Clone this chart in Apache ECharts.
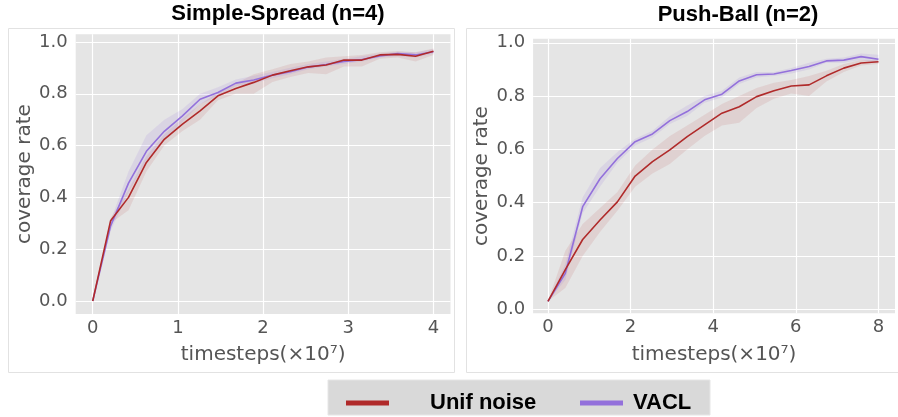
<!DOCTYPE html>
<html>
<head>
<meta charset="utf-8">
<script src="https://cdn.jsdelivr.net/npm/echarts@6/dist/echarts.min.js"></script>
<style>html,body{margin:0;padding:0;background:#fff;}#c{width:898px;height:417px;}</style>
</head>
<body>
<div id="c"></div>
<script>
// ---- Simple-Spread (n=4) ----
const ssX = [0, 0.21, 0.42, 0.63, 0.84, 1.05, 1.26, 1.47, 1.68, 1.89, 2.11, 2.32, 2.53, 2.74, 2.95, 3.16, 3.37, 3.58, 3.79, 4.0];
const ssUnif   = [0, 0.31, 0.40, 0.535, 0.624, 0.682, 0.734, 0.792, 0.82, 0.844, 0.872, 0.889, 0.904, 0.911, 0.930, 0.930, 0.950, 0.952, 0.945, 0.964];
const ssUnifLo = [0, 0.30, 0.35, 0.50, 0.60, 0.655, 0.70, 0.775, 0.80, 0.80, 0.845, 0.865, 0.88, 0.875, 0.905, 0.905, 0.935, 0.94, 0.925, 0.95];
const ssUnifHi = [0, 0.32, 0.43, 0.56, 0.645, 0.705, 0.76, 0.805, 0.84, 0.875, 0.895, 0.915, 0.925, 0.94, 0.945, 0.95, 0.96, 0.965, 0.96, 0.975];
const ssVacl   = [0, 0.29, 0.455, 0.578, 0.655, 0.714, 0.779, 0.805, 0.841, 0.853, 0.872, 0.885, 0.903, 0.913, 0.925, 0.932, 0.946, 0.955, 0.950, 0.962];
const ssVaclLo = [0, 0.27, 0.42, 0.54, 0.62, 0.69, 0.76, 0.79, 0.83, 0.84, 0.86, 0.875, 0.895, 0.905, 0.915, 0.925, 0.94, 0.945, 0.94, 0.955];
const ssVaclHi = [0, 0.31, 0.50, 0.64, 0.70, 0.74, 0.80, 0.825, 0.855, 0.87, 0.885, 0.90, 0.915, 0.925, 0.935, 0.945, 0.955, 0.962, 0.96, 0.972];
const ssXTicks = [0, 1, 2, 3, 4];
const ssYTicks = [0, 0.2, 0.4, 0.6, 0.8, 1.0];

// ---- Push-Ball (n=2) ----
const pbX = [0, 0.42, 0.84, 1.26, 1.68, 2.11, 2.53, 2.95, 3.37, 3.79, 4.21, 4.63, 5.05, 5.47, 5.89, 6.32, 6.74, 7.16, 7.58, 8.0];
const pbUnif   = [0.03, 0.149, 0.262, 0.335, 0.403, 0.50, 0.554, 0.598, 0.648, 0.692, 0.736, 0.76, 0.798, 0.82, 0.838, 0.842, 0.876, 0.905, 0.924, 0.929];
const pbUnifLo = [0.03, 0.08, 0.20, 0.29, 0.37, 0.46, 0.51, 0.545, 0.60, 0.65, 0.69, 0.70, 0.755, 0.79, 0.81, 0.80, 0.855, 0.89, 0.915, 0.92];
const pbUnifHi = [0.03, 0.22, 0.32, 0.38, 0.44, 0.54, 0.60, 0.65, 0.69, 0.73, 0.77, 0.80, 0.83, 0.85, 0.86, 0.875, 0.895, 0.92, 0.935, 0.935];
const pbVacl   = [0.03, 0.135, 0.385, 0.49, 0.566, 0.629, 0.658, 0.708, 0.742, 0.786, 0.807, 0.857, 0.88, 0.883, 0.896, 0.911, 0.932, 0.935, 0.948, 0.938];
const pbVaclLo = [0.03, 0.11, 0.36, 0.46, 0.55, 0.615, 0.645, 0.695, 0.725, 0.775, 0.795, 0.845, 0.87, 0.875, 0.885, 0.90, 0.925, 0.925, 0.935, 0.925];
const pbVaclHi = [0.03, 0.17, 0.42, 0.53, 0.59, 0.64, 0.67, 0.725, 0.765, 0.80, 0.82, 0.87, 0.89, 0.89, 0.905, 0.925, 0.94, 0.945, 0.96, 0.955];
const pbXTicks = [0, 2, 4, 6, 8];
const pbYTicks = [0, 0.2, 0.4, 0.6, 0.8, 1.0];

const titles = ['Simple-Spread (n=4)', 'Push-Ball (n=2)'];
const seriesNames = ['Unif noise', 'VACL'];
const xName = 'timesteps(×10⁷)';
const yName = 'coverage rate';

const RED = '#b02a2a';
const PURPLE = '#9370db';
const RED_BAND = 'rgba(176,42,42,0.10)';
const PURPLE_BAND = 'rgba(147,112,219,0.14)';

function isTick(ticks, v) { return ticks.some(t => Math.abs(t - v) < 1e-6); }

function gridLines(xt, yt) {
  return {
    silent: true, symbol: ['none', 'none'], z: 1,
    label: { show: false },
    lineStyle: { color: '#ffffff', width: 1.2, type: 'solid', opacity: 1 },
    emphasis: { disabled: true },
    data: xt.map(v => ({ xAxis: v })).concat(yt.map(v => ({ yAxis: v })))
  };
}

// Shaded band between lo and hi, drawn as one polygon through the axis scales
function band(gi, xs, lo, hi, color) {
  return {
    type: 'custom', xAxisIndex: gi, yAxisIndex: gi, silent: true, z: 2,
    data: xs.map((x, i) => [x, lo[i], hi[i]]),
    encode: { x: 0, y: [1, 2] },
    renderItem: function (params, api) {
      if (params.dataIndex !== 0) return null;
      const pts = [];
      for (let i = 0; i < xs.length; i++) pts.push(api.coord([xs[i], lo[i]]));
      for (let i = xs.length - 1; i >= 0; i--) pts.push(api.coord([xs[i], hi[i]]));
      return { type: 'polygon', shape: { points: pts }, style: { fill: color, stroke: null } };
    }
  };
}

function mainLine(gi, name, xs, ys, color, grid) {
  const s = {
    type: 'line', name: name, xAxisIndex: gi, yAxisIndex: gi, symbol: 'none', z: 3,
    lineStyle: { color: color, width: 1.6 }, itemStyle: { color: color },
    data: xs.map((x, i) => [x, ys[i]])
  };
  if (grid) s.markLine = grid;
  return s;
}

const labelStyle = { color: '#555555', fontSize: 18, fontFamily: 'DejaVu Sans' };
const nameStyle = { color: '#555555', fontSize: 20, fontFamily: 'DejaVu Sans' };

function xAxis(gi, min, max, interval, ticks) {
  return {
    type: 'value', gridIndex: gi, min: min, max: max, interval: interval,
    axisLine: { show: false }, axisTick: { show: false }, splitLine: { show: false },
    axisLabel: Object.assign({ margin: 5, formatter: v => isTick(ticks, v) ? String(Math.round(v)) : '' }, labelStyle),
    name: xName, nameLocation: 'middle', nameGap: 31, nameTextStyle: nameStyle
  };
}
function yAxis(gi, min, max, interval, ticks) {
  return {
    type: 'value', gridIndex: gi, min: min, max: max, interval: interval,
    axisLine: { show: false }, axisTick: { show: false }, splitLine: { show: false },
    axisLabel: Object.assign({ margin: 8, formatter: v => isTick(ticks, v) ? v.toFixed(1) : '' }, labelStyle),
    name: yName, nameLocation: 'middle', nameGap: 41, nameTextStyle: nameStyle
  };
}

const chart = echarts.init(document.getElementById('c'), null, { renderer: 'canvas' });
const legendText = { fontFamily: 'Liberation Sans, Arial, sans-serif', fontWeight: 'bold', fontSize: 22, color: '#000', lineHeight: 24 };

chart.setOption({
  animation: false,
  backgroundColor: '#ffffff',
  graphic: [
    { type: 'rect', shape: { x: 8.5, y: 28.5, width: 446, height: 344 }, style: { fill: 'none', stroke: '#e2e2e2', lineWidth: 1 }, z: -10 },
    { type: 'rect', shape: { x: 466.5, y: 28.5, width: 440, height: 344 }, style: { fill: 'none', stroke: '#e2e2e2', lineWidth: 1 }, z: -10 },
    { type: 'rect', shape: { x: 328, y: 380, width: 382, height: 35 }, style: { fill: '#d9d9d9', stroke: '#e6e6e6', lineWidth: 1 }, z: -10 },
    { type: 'text', x: 278, y: 14, style: { text: titles[0], textAlign: 'center', textVerticalAlign: 'middle', font: 'bold 22px "Liberation Sans", Arial, sans-serif', fill: '#000' } },
    { type: 'text', x: 738, y: 15, style: { text: titles[1], textAlign: 'center', textVerticalAlign: 'middle', font: 'bold 22px "Liberation Sans", Arial, sans-serif', fill: '#000' } }
  ],
  legend: [
    { left: 341, top: 386, icon: 'rect', itemWidth: 43, itemHeight: 5, selectedMode: false,
      data: [{ name: seriesNames[0], textStyle: Object.assign({ padding: [0, 0, 0, 36] }, legendText) }], textStyle: legendText },
    { left: 575, top: 386, icon: 'rect', itemWidth: 43, itemHeight: 5, selectedMode: false,
      data: [{ name: seriesNames[1], textStyle: Object.assign({ padding: [0, 0, 0, 5] }, legendText) }], textStyle: legendText }
  ],
  grid: [
    { left: 75.7, right: 447.5, top: 34.2, bottom: 103.05, show: true, backgroundColor: '#e5e5e5', borderWidth: 0 },
    { left: 533.1, right: -4.8, top: 38.8, bottom: 103.7, show: true, backgroundColor: '#e5e5e5', borderWidth: 0 }
  ],
  xAxis: [
    xAxis(0, -0.2, 4.2, 0.2, ssXTicks),
    xAxis(1, -0.36, 8.4, 0.04, pbXTicks)
  ],
  yAxis: [
    yAxis(0, -0.05, 1.03, 0.01, ssYTicks),
    yAxis(1, -0.015, 1.015, 0.005, pbYTicks)
  ],
  series: [
    band(0, ssX, ssUnifLo, ssUnifHi, RED_BAND),
    band(0, ssX, ssVaclLo, ssVaclHi, PURPLE_BAND),
    band(1, pbX, pbUnifLo, pbUnifHi, RED_BAND),
    band(1, pbX, pbVaclLo, pbVaclHi, PURPLE_BAND),
    mainLine(0, seriesNames[1], ssX, ssVacl, PURPLE, gridLines(ssXTicks, ssYTicks)),
    mainLine(0, seriesNames[0], ssX, ssUnif, RED),
    mainLine(1, seriesNames[1], pbX, pbVacl, PURPLE, gridLines(pbXTicks, pbYTicks)),
    mainLine(1, seriesNames[0], pbX, pbUnif, RED)
  ]
});
</script>
</body>
</html>
